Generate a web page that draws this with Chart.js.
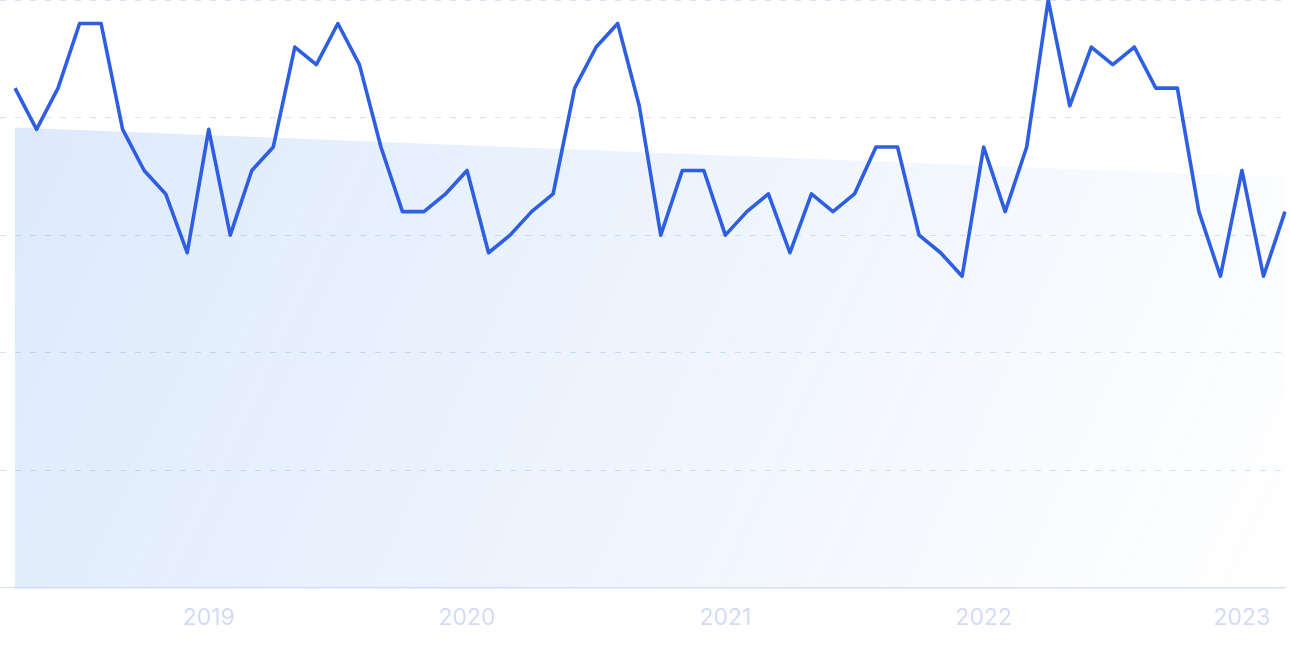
<!DOCTYPE html>
<html>
<head>
<meta charset="utf-8">
<script src="https://cdn.jsdelivr.net/npm/chart.js@4"></script>
<style>
  html, body { margin: 0; padding: 0; background: #fff; }
  #wrap { width: 1290px; height: 645px; position: relative; }
</style>
</head>
<body>
<div id="wrap"><canvas id="myChart"></canvas></div>
<script>
// meses (eje X), abril 2018 - marzo 2023
var months = [
  "2018-04", "2018-05", "2018-06", "2018-07", "2018-08", "2018-09", "2018-10", "2018-11", "2018-12",
  "2019-01", "2019-02", "2019-03", "2019-04", "2019-05", "2019-06", "2019-07", "2019-08", "2019-09", "2019-10", "2019-11", "2019-12",
  "2020-01", "2020-02", "2020-03", "2020-04", "2020-05", "2020-06", "2020-07", "2020-08", "2020-09", "2020-10", "2020-11", "2020-12",
  "2021-01", "2021-02", "2021-03", "2021-04", "2021-05", "2021-06", "2021-07", "2021-08", "2021-09", "2021-10", "2021-11", "2021-12",
  "2022-01", "2022-02", "2022-03", "2022-04", "2022-05", "2022-06", "2022-07", "2022-08", "2022-09", "2022-10", "2022-11", "2022-12",
  "2023-01", "2023-02", "2023-03"
];

// interés (eje Y, 0-100)
var interest = [
  85, 78, 85, 96, 96, 78, 71, 67, 57,
  78, 60, 71, 75, 92, 89, 96, 89, 75, 64, 64, 67,
  71, 57, 60, 64, 67, 85, 92, 96, 82, 60, 71, 71,
  60, 64, 67, 57, 67, 64, 67, 75, 75, 60, 57, 53,
  75, 64, 75, 100, 82, 92, 89, 92, 85, 85, 64, 53,
  71, 53, 64
];

// línea de tendencia: solo inicio y fin
var trend = [
  { x: "2018-04", y: 78.3 },
  { x: "2023-03", y: 69.8 }
];

var yTicks = [0, 20, 40, 60, 80, 100];

var ctx = document.getElementById("myChart").getContext("2d");

var chart = new Chart(ctx, {
  type: "line",
  data: {
    labels: months,
    datasets: [
      {
        label: "Interés",
        data: interest,
        borderColor: "rgb(46, 94, 228)",
        borderWidth: 3.6,
        pointRadius: 0,
        tension: 0,
        fill: false,
        borderJoinStyle: "round",
      },
      {
        label: "Tendencia",
        data: trend,
        borderWidth: 0,
        pointRadius: 0,
        fill: "origin",
        backgroundColor: function (c) {
          var area = c.chart.chartArea;
          if (!area) return "rgba(45, 125, 235, 0.17)";
          var g = c.chart.ctx.createLinearGradient(area.left, area.top, area.right, area.bottom);
          g.addColorStop(0, "rgba(45, 125, 235, 0.17)");
          g.addColorStop(1, "rgba(45, 125, 235, 0)");
          return g;
        },
      },
    ],
  },
  options: {
    responsive: true,
    maintainAspectRatio: false,
    animation: false,
    layout: { padding: { top: 0, right: 5, bottom: 13.6, left: 0 } },
    plugins: {
      legend: { display: false },
      tooltip: { enabled: false },
    },
    scales: {
      x: {
        grid: { display: false, drawTicks: true, tickLength: 16 },
        border: { display: true, color: "#d6e1f6", width: 1.5 },
        ticks: {
          autoSkip: false,
          maxRotation: 0,
          padding: 0,
          color: "#d1dbf4",
          font: { family: "Inter", size: 23 },
          callback: function (v) {
            var m = months[v];
            return m.slice(5) === "01" ? m.slice(0, 4) : "";
          },
        },
      },
      y: {
        min: 0,
        max: 100,
        afterBuildTicks: function (axis) {
          axis.ticks = yTicks.map(function (v) { return { value: v }; });
        },
        ticks: { display: false },
        border: { display: false, dash: [6, 9] },
        grid: {
          color: "#d6e2f6",
          lineWidth: 1,
          tickLength: 15,
          tickColor: "#d6e2f6",
          tickBorderDash: function (c) { return c.tick && c.tick.value === 0 ? [] : [6, 9]; },
        },
      },
    },
  },
});
</script>
</body>
</html>
